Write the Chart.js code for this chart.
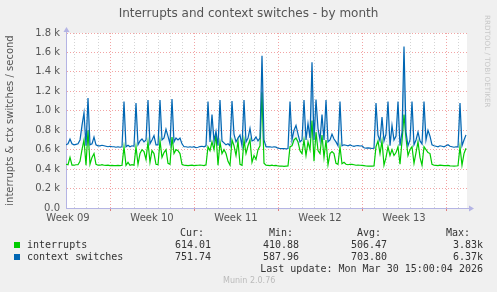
<!DOCTYPE html>
<html>
<head>
<meta charset="utf-8">
<script src="https://cdn.jsdelivr.net/npm/chart.js@4"></script>
<style>
    body { margin: 0; background: #f0f0f0; }
    #wrap { position: relative; width: 497px; height: 292px; overflow: hidden; font-family: 'DejaVu Sans', sans-serif; color: #555; }
    canvas { position: absolute; left: 0; top: 0; }
    .title { position: absolute; left: 0; top: 6px; width: 497px; text-align: center; font-size: 12px; line-height: 15px; color: #555; }
    .brand { position: absolute; left: 483px; top: 15px; writing-mode: vertical-rl; font-size: 7.2px; line-height: 8px; color: #c8c8c8; }
    .mono { position: absolute; font-family: 'DejaVu Sans Mono', monospace; font-size: 10px; line-height: 12px; color: #333; white-space: pre; }
    .sq { position: absolute; width: 6px; height: 6px; }
    .munin { position: absolute; top: 276px; left: 223px; font-size: 8px; line-height: 10px; color: #bbb; }
</style>
</head>
<body>
<div id="wrap">
    <canvas id="chart" width="497" height="292"></canvas>
    <div class="title">Interrupts and context switches - by month</div>
    <div class="brand">RRDTOOL / TOBI OETIKER</div>
    <div id="legend"></div>
    <div class="munin">Munin 2.0.76</div>
</div>
<script>
// ====== Data (one sample every 4 hours, hours counted from Monday of week 10) ======
const START_HOUR = -88;
const STEP_HOURS = 4;
const weekLabels = ['Week 09', 'Week 10', 'Week 11', 'Week 12', 'Week 13'];

const interrupts = [
    450, 445, 520, 440, 440, 445, 445, 480, 600, 700,
    440, 800, 450, 520, 560, 450, 440, 440, 445, 440,
    438, 440, 436, 438, 435, 436, 438, 436, 440, 630,
    440, 470, 440, 445, 440, 630, 450, 560, 600, 580,
    500, 680, 470, 590, 560, 450, 445, 690, 520, 570,
    600, 460, 450, 730, 560, 600, 590, 560, 450, 440,
    438, 436, 438, 440, 436, 438, 440, 442, 440, 436,
    445, 630, 590, 680, 600, 760, 440, 680, 560, 600,
    560, 480, 440, 700, 640, 540, 690, 450, 440, 700,
    560, 640, 700, 470, 540, 500, 600, 640, 1190, 460,
    440, 438, 436, 440, 435, 438, 432, 430, 432, 428,
    430, 432, 630, 640, 700, 720, 680, 590, 560, 700,
    540, 680, 600, 900, 480, 780, 590, 560, 750, 520,
    700, 445, 560, 580, 560, 460, 450, 630, 455, 470,
    450, 445, 450, 448, 445, 440, 442, 440, 438, 435,
    432, 430, 432, 430, 432, 630, 690, 560, 690, 440,
    520, 630, 540, 600, 540, 570, 630, 450, 690, 960,
    720, 540, 600, 630, 460, 570, 680, 520, 440, 630,
    600, 570, 560, 450, 440, 438, 436, 440, 438, 436,
    435, 438, 434, 432, 430, 432, 434, 630, 440, 560,
    614
];

const contextSwitches = [
    650, 660, 710, 660, 650, 655, 660, 700, 850, 980,
    640, 1130, 650, 660, 730, 650, 640, 640, 645, 640,
    635, 630, 635, 630, 630, 625, 630, 625, 630, 1095,
    630, 645, 630, 640, 635, 1080, 650, 690, 710, 680,
    700, 1110, 660, 700, 745, 650, 650, 1110, 700, 720,
    810, 740, 660, 1120, 680, 720, 700, 720, 660, 630,
    630, 625, 630, 625, 630, 620, 625, 632, 635, 630,
    640, 1095, 680, 960, 690, 790, 640, 1110, 690, 670,
    650, 660, 640, 1100, 760, 680, 720, 750, 640, 1110,
    680, 720, 820, 690, 700, 730, 690, 720, 1565, 700,
    630, 628, 630, 625, 630, 626, 615, 612, 610, 612,
    608, 612, 1095, 700, 800, 850, 760, 680, 700, 1110,
    700, 870, 720, 1500, 700, 1115, 820, 700, 960, 700,
    1110, 680, 700, 760, 710, 680, 640, 1095, 640, 650,
    645, 640, 648, 640, 635, 640, 642, 638, 640, 620,
    615, 618, 615, 612, 615, 1080, 750, 690, 935, 690,
    760, 1095, 640, 850, 700, 740, 1095, 640, 780, 1660,
    780, 640, 700, 1095, 650, 700, 780, 690, 660, 1095,
    700, 800, 740, 650, 640, 635, 630, 640, 635, 630,
    640, 650, 635, 630, 625, 630, 628, 1080, 640, 700,
    752
];

// legend table
const seriesNames = ['interrupts', 'context switches'];
const seriesColors = ['#00cc00', '#0066b3'];
const legendHeaders = ['Cur:', 'Min:', 'Avg:', 'Max:'];
const curValues = ['614.01', '751.74'];
const minValues = ['410.88', '587.96'];
const avgValues = ['506.47', '703.80'];
const maxValues = ['3.83k', '6.37k'];
const lastUpdate = 'Last update: Mon Mar 30 15:00:04 2026';

const MAJOR_GRID = '#f2a4a4';
const MINOR_GRID = '#d4d4d4';
const AXIS_COLOR = '#b4b4e4';

function mod(v, m) { return ((v % m) + m) % m; }
function toPoints(values) {
    return values.map((v, i) => ({ x: START_HOUR + i * STEP_HOURS, y: v }));
}
function isWeekLabel(v) { return mod(v, 24) === 12; }

// ====== Legend (HTML) ======
function buildLegend() {
    const box = document.getElementById('legend');
    const add = (cls, text, css) => {
        const el = document.createElement('div');
        el.className = cls;
        el.textContent = text;
        Object.assign(el.style, css);
        box.appendChild(el);
        return el;
    };
    const headerRight = [204, 293, 381, 470];
    const valueRight = [211, 299, 387, 483];
    legendHeaders.forEach((h, i) => add('mono', h, { top: '227px', right: (497 - headerRight[i]) + 'px' }));
    seriesNames.forEach((name, r) => {
        const top = 238.5 + r * 12;
        add('sq', '', { left: '14px', top: (top + 3) + 'px', background: seriesColors[r] });
        add('mono', name, { left: '27px', top: top + 'px' });
        [curValues, minValues, avgValues, maxValues].forEach((col, c) => {
            add('mono', col[r], { top: top + 'px', right: (497 - valueRight[c]) + 'px' });
        });
    });
    add('mono', lastUpdate, { top: '262.5px', right: (497 - 483) + 'px' });
}

// ====== Chart ======
const plotBackground = {
    id: 'plotBackground',
    beforeDraw(chart) {
        const { ctx, chartArea: a } = chart;
        ctx.save();
        ctx.fillStyle = '#ffffff';
        ctx.fillRect(a.left, a.top, a.right - a.left, a.bottom - a.top);
        ctx.restore();
    },
    afterDraw(chart) {
        const { ctx, chartArea: a } = chart;
        ctx.save();
        ctx.strokeStyle = AXIS_COLOR;
        ctx.fillStyle = AXIS_COLOR;
        ctx.lineWidth = 1;
        ctx.beginPath();
        ctx.moveTo(a.right, a.bottom + 0.5);
        ctx.lineTo(a.right + 3, a.bottom + 0.5);
        ctx.moveTo(a.left + 0.5, a.top);
        ctx.lineTo(a.left + 0.5, a.top - 2);
        ctx.stroke();
        // arrow heads
        ctx.beginPath();
        ctx.moveTo(a.right + 2, a.bottom - 2.5);
        ctx.lineTo(a.right + 7, a.bottom + 0.5);
        ctx.lineTo(a.right + 2, a.bottom + 3.5);
        ctx.closePath();
        ctx.fill();
        ctx.beginPath();
        ctx.moveTo(a.left - 2.5, a.top - 1);
        ctx.lineTo(a.left + 0.5, a.top - 6);
        ctx.lineTo(a.left + 3.5, a.top - 1);
        ctx.closePath();
        ctx.fill();
        ctx.restore();
    }
};

function ctxGradient(context) {
    const chart = context.chart;
    if (!chart.chartArea) return 'rgba(0,0,0,0)';
    const y = chart.scales.y;
    const g = chart.ctx.createLinearGradient(0, y.getPixelForValue(1600), 0, y.getPixelForValue(650));
    g.addColorStop(0, 'rgba(0, 102, 179, 0.55)');
    g.addColorStop(1, 'rgba(0, 102, 179, 0.04)');
    return g;
}

Chart.defaults.font.family = "'DejaVu Sans', sans-serif";
Chart.defaults.font.size = 10;
Chart.defaults.color = '#555';

new Chart(document.getElementById('chart'), {
    type: 'line',
    data: {
        datasets: [
            {
                label: seriesNames[0],
                data: toPoints(interrupts),
                borderColor: seriesColors[0],
                borderWidth: 1.2,
                pointRadius: 0,
                fill: false,
                order: 1
            },
            {
                label: seriesNames[1],
                data: toPoints(contextSwitches),
                borderColor: seriesColors[1],
                backgroundColor: ctxGradient,
                borderWidth: 1.2,
                pointRadius: 0,
                fill: { target: { value: 640 }, below: 'rgba(0,0,0,0)' },
                order: 0
            }
        ]
    },
    options: {
        responsive: false,
        animation: false,
        layout: { padding: { top: 33, right: 30, left: 0, bottom: 0 } },
        plugins: { legend: { display: false }, tooltip: { enabled: false } },
        scales: {
            x: {
                type: 'linear',
                min: START_HOUR,
                max: 714,
                afterFit(scale) { scale.height = 84; },
                afterBuildTicks(scale) {
                    const ticks = [];
                    for (let h = -72; h <= 696; h += 24) ticks.push({ value: h });
                    weekLabels.forEach((_, i) => ticks.push({ value: -84 + 168 * i }));
                    ticks.sort((a, b) => a.value - b.value);
                    scale.ticks = ticks;
                },
                ticks: {
                    autoSkip: false,
                    maxRotation: 0,
                    padding: 1,
                    callback(value) {
                        if (!isWeekLabel(value)) return '';
                        return weekLabels[(value + 84) / 168];
                    }
                },
                grid: {
                    color(c) {
                        const v = c.tick.value;
                        if (isWeekLabel(v)) return 'rgba(0,0,0,0)';
                        return mod(v, 168) === 0 ? MAJOR_GRID : MINOR_GRID;
                    },
                    tickColor(c) {
                        return mod(c.tick.value, 168) === 0 ? '#e08080' : 'rgba(0,0,0,0)';
                    },
                    tickLength: 3,
                    lineWidth: 1
                },
                border: { color: AXIS_COLOR, dash: [1, 2] }
            },
            y: {
                min: 0,
                max: 1800,
                afterFit(scale) { scale.width = 66; },
                afterBuildTicks(scale) {
                    const ticks = [];
                    for (let v = 0; v <= 1800; v += 100) ticks.push({ value: v });
                    scale.ticks = ticks;
                },
                ticks: {
                    padding: 6,
                    callback(value) {
                        if (value % 200 !== 0) return '';
                        return value === 0 ? '0.0' : (value / 1000).toFixed(1) + ' k';
                    }
                },
                grid: {
                    color(c) { return c.tick.value % 200 === 0 ? MAJOR_GRID : MINOR_GRID; },
                    drawTicks: false,
                    lineWidth: 1
                },
                border: { color: AXIS_COLOR, dash: [1, 2] },
                title: {
                    display: true,
                    text: 'interrupts & ctx switches / second',
                    color: '#555',
                    font: { size: 10 },
                    padding: { top: 4, bottom: 0 }
                }
            }
        }
    },
    plugins: [plotBackground]
});

buildLegend();
</script>
</body>
</html>
